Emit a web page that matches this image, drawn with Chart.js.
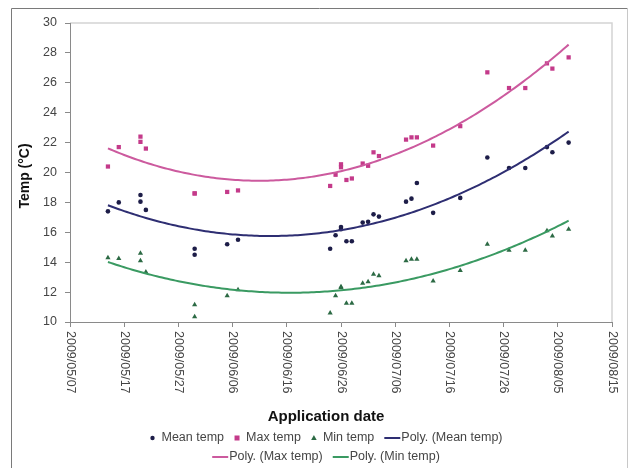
<!DOCTYPE html>
<html>
<head>
<meta charset="utf-8">
<script src="https://cdn.jsdelivr.net/npm/chart.js@4/dist/chart.umd.min.js"></script>
<style>
  html, body { margin: 0; padding: 0; background: #ffffff; }
  #wrap { width: 628px; height: 468px; position: relative; }
</style>
</head>
<body>
<div id="wrap"><canvas id="c" width="628" height="468"></canvas></div>
<script>
// Date axis: first tick and the tick labels (every 10 days)
const axisStart = '2009/05/07';
const xTickLabels = ['2009/05/07', '2009/05/17', '2009/05/27', '2009/06/06', '2009/06/16',
  '2009/06/26', '2009/07/06', '2009/07/16', '2009/07/26', '2009/08/05', '2009/08/15'];

// Observations, one entry per application
const applicationDates = [
  '2009/05/14', '2009/05/16', '2009/05/20', '2009/05/20', '2009/05/21',
  '2009/05/30', '2009/05/30', '2009/06/05', '2009/06/07', '2009/06/24',
  '2009/06/25', '2009/06/26', '2009/06/26', '2009/06/27', '2009/06/28',
  '2009/06/30', '2009/07/01', '2009/07/02', '2009/07/03', '2009/07/08',
  '2009/07/09', '2009/07/10', '2009/07/13', '2009/07/18', '2009/07/23',
  '2009/07/27', '2009/07/30', '2009/08/03', '2009/08/04', '2009/08/07'
];
const meanTemp = [
  17.4, 18.0, 18.5, 18.05, 17.5,
  14.9, 14.5, 15.2, 15.5, 14.9,
  15.8, 16.35, 16.2, 15.4, 15.4,
  16.65, 16.7, 17.2, 17.05, 18.05,
  18.25, 19.3, 17.3, 18.3, 21.0,
  20.3, 20.3, 21.7, 21.35, 22.0
];
const maxTemp = [
  20.4, 21.7, 22.4, 22.05, 21.6,
  18.6, 18.6, 18.7, 18.8, 19.1,
  19.85, 20.55, 20.35, 19.5, 19.6,
  20.6, 20.45, 21.35, 21.1, 22.2,
  22.35, 22.35, 21.8, 23.1, 26.7,
  25.65, 25.65, 27.3, 26.95, 27.7
];
const minTemp = [
  14.3, 14.25, 14.6, 14.1, 13.35,
  11.15, 10.35, 11.75, 12.15, 10.6,
  11.75, 12.35, 12.3, 11.25, 11.25,
  12.6, 12.7, 13.2, 13.1, 14.1,
  14.2, 14.2, 12.75, 13.45, 15.2,
  14.8, 14.8, 16.1, 15.75, 16.2
];

const DAY_MS = 86400000;
function toDay(s) {
  const [y, m, d] = s.split('/').map(Number);
  const [y0, m0, d0] = axisStart.split('/').map(Number);
  return (Date.UTC(y, m - 1, d) - Date.UTC(y0, m0 - 1, d0)) / DAY_MS;
}
const days = applicationDates.map(toDay);

// Second-order least-squares trendline ("Poly.")
function polyFit2(xs, ys) {
  let s0 = 0, s1 = 0, s2 = 0, s3 = 0, s4 = 0, t0 = 0, t1 = 0, t2 = 0;
  xs.forEach((x, i) => {
    const y = ys[i], x2 = x * x;
    s0 += 1; s1 += x; s2 += x2; s3 += x2 * x; s4 += x2 * x2;
    t0 += y; t1 += x * y; t2 += x2 * y;
  });
  const A = [[s0, s1, s2, t0], [s1, s2, s3, t1], [s2, s3, s4, t2]];
  for (let c = 0; c < 3; c++) {
    for (let r = c + 1; r < 3; r++) {
      const f = A[r][c] / A[c][c];
      for (let k = c; k < 4; k++) A[r][k] -= f * A[c][k];
    }
  }
  const coef = [0, 0, 0];
  for (let r = 2; r >= 0; r--) {
    let v = A[r][3];
    for (let k = r + 1; k < 3; k++) v -= A[r][k] * coef[k];
    coef[r] = v / A[r][r];
  }
  return coef;
}
function trendPoints(ys) {
  const c = polyFit2(days, ys);
  const lo = Math.min(...days), hi = Math.max(...days);
  const pts = [];
  for (let x = lo; x <= hi + 1e-9; x += 0.5) pts.push({ x, y: c[0] + c[1] * x + c[2] * x * x });
  return pts;
}
const asPoints = ys => days.map((x, i) => ({ x, y: ys[i] }));

const COL = {
  mean: '#1d1d48', meanLine: '#2e2e72',
  max: '#c43a8a', maxLine: '#cc5a9e',
  min: '#2c6a44', minLine: '#3a9a62',
  axis: '#8a8a8a', text: '#454545'
};
const FONT = '"Liberation Sans", Arial, sans-serif';

const decorations = {
  id: 'decorations',
  beforeDraw(chart) {
    const ctx = chart.ctx;
    ctx.save();
    ctx.fillStyle = '#ffffff';
    ctx.fillRect(0, 0, chart.width, chart.height);
    // outer frame
    ctx.strokeStyle = '#7a7a7a';
    ctx.lineWidth = 1;
    ctx.beginPath();
    ctx.moveTo(11.5, 468); ctx.lineTo(11.5, 8.5); ctx.lineTo(627.5, 8.5);
    ctx.stroke();
    ctx.strokeStyle = '#c8c8c8';
    ctx.beginPath();
    ctx.moveTo(627.5, 8.5); ctx.lineTo(627.5, 468);
    ctx.stroke();
    // plot area border (top and right)
    const a = chart.chartArea;
    ctx.strokeStyle = '#d4d4d4';
    ctx.lineWidth = 1.5;
    ctx.beginPath();
    ctx.moveTo(a.left, a.top); ctx.lineTo(a.right, a.top); ctx.lineTo(a.right, a.bottom);
    ctx.stroke();
    ctx.restore();
  },
  afterDraw(chart) {
    const ctx = chart.ctx;
    const xs = chart.scales.x, a = chart.chartArea;
    ctx.save();
    // rotated date labels, reading downward
    ctx.fillStyle = COL.text;
    ctx.font = '12.5px ' + FONT;
    ctx.textAlign = 'left';
    ctx.textBaseline = 'middle';
    xs.ticks.forEach((t, i) => {
      const px = xs.getPixelForValue(t.value);
      ctx.save();
      ctx.translate(px, a.bottom + 9);
      ctx.rotate(Math.PI / 2);
      ctx.fillText(xTickLabels[i], 0, 0);
      ctx.restore();
    });
    // axis titles
    ctx.fillStyle = '#111111';
    ctx.font = 'bold 15px ' + FONT;
    ctx.textAlign = 'center';
    ctx.fillText('Application date', 326, 417);
    ctx.font = 'bold 14px ' + FONT;
    ctx.save();
    ctx.translate(25, 176);
    ctx.rotate(-Math.PI / 2);
    ctx.fillText('Temp (\u00B0C)', 0, 0);
    ctx.restore();
    // legend
    drawLegend(ctx);
    ctx.restore();
  }
};

function drawMarker(ctx, kind, x, y) {
  ctx.save();
  if (kind === 'mean') {
    ctx.fillStyle = COL.mean;
    ctx.beginPath(); ctx.arc(x, y, 2.2, 0, Math.PI * 2); ctx.fill();
  } else if (kind === 'max') {
    ctx.fillStyle = COL.max;
    ctx.fillRect(x - 2.5, y - 2.5, 5, 5);
  } else if (kind === 'min') {
    ctx.fillStyle = COL.min;
    ctx.beginPath(); ctx.moveTo(x, y - 3); ctx.lineTo(x + 2.8, y + 2); ctx.lineTo(x - 2.8, y + 2); ctx.closePath(); ctx.fill();
  }
  ctx.restore();
}

function drawLegend(ctx) {
  ctx.font = '12.5px ' + FONT;
  ctx.textBaseline = 'middle';
  ctx.textAlign = 'left';
  const rows = [
    { y: 438, items: [
      { kind: 'mean', text: 'Mean temp' },
      { kind: 'max', text: 'Max temp' },
      { kind: 'min', text: 'Min temp' },
      { line: COL.meanLine, text: 'Poly. (Mean temp)' }
    ] },
    { y: 457, items: [
      { line: COL.maxLine, text: 'Poly. (Max temp)' },
      { line: COL.minLine, text: 'Poly. (Min temp)' }
    ] }
  ];
  const gap = 10;
  rows.forEach(row => {
    const widths = row.items.map(it => (it.line ? 17 : 12) + ctx.measureText(it.text).width);
    const total = widths.reduce((s, w) => s + w, 0) + gap * (row.items.length - 1);
    let x = 326 - total / 2;
    row.items.forEach((it, i) => {
      if (it.line) {
        ctx.strokeStyle = it.line;
        ctx.lineWidth = 2;
        ctx.beginPath(); ctx.moveTo(x, row.y); ctx.lineTo(x + 16, row.y); ctx.stroke();
        ctx.fillStyle = COL.text;
        ctx.fillText(it.text, x + 17, row.y);
      } else {
        drawMarker(ctx, it.kind, x + 3, row.y);
        ctx.fillStyle = COL.text;
        ctx.fillText(it.text, x + 12, row.y);
      }
      x += widths[i] + gap;
    });
  });
}

new Chart(document.getElementById('c'), {
  type: 'scatter',
  data: {
    datasets: [
      { label: 'Poly. (Mean temp)', data: trendPoints(meanTemp), showLine: true, borderColor: COL.meanLine,
        borderWidth: 2, pointRadius: 0, fill: false },
      { label: 'Poly. (Max temp)', data: trendPoints(maxTemp), showLine: true, borderColor: COL.maxLine,
        borderWidth: 2, pointRadius: 0, fill: false },
      { label: 'Poly. (Min temp)', data: trendPoints(minTemp), showLine: true, borderColor: COL.minLine,
        borderWidth: 2, pointRadius: 0, fill: false },
      { label: 'Mean temp', data: asPoints(meanTemp), pointStyle: 'circle', pointRadius: 2.3,
        backgroundColor: COL.mean, borderColor: COL.mean, borderWidth: 0 },
      { label: 'Max temp', data: asPoints(maxTemp), pointStyle: 'rect', pointRadius: 3,
        backgroundColor: COL.max, borderColor: COL.max, borderWidth: 0 },
      { label: 'Min temp', data: asPoints(minTemp), pointStyle: 'triangle', pointRadius: 3,
        backgroundColor: COL.min, borderColor: COL.min, borderWidth: 0 }
    ]
  },
  options: {
    responsive: false,
    animation: false,
    devicePixelRatio: 1,
    layout: { padding: { left: 11, top: 23, right: 16, bottom: 141 } },
    plugins: { legend: { display: false }, tooltip: { enabled: false } },
    scales: {
      x: {
        type: 'linear', min: 0, max: 100,
        ticks: { stepSize: 10, display: false },
        grid: { drawOnChartArea: false, drawTicks: true, tickLength: 5, color: COL.axis },
        border: { color: COL.axis, width: 1 },
        afterFit: s => { s.height = 5; }
      },
      y: {
        min: 10, max: 30,
        ticks: { stepSize: 2, padding: 8, color: COL.text, font: { family: FONT, size: 12.5 } },
        grid: { drawOnChartArea: false, drawTicks: true, tickLength: 5, color: COL.axis },
        border: { color: COL.axis, width: 1 },
        afterFit: s => { s.width = 59; }
      }
    }
  },
  plugins: [decorations]
});
</script>
</body>
</html>
